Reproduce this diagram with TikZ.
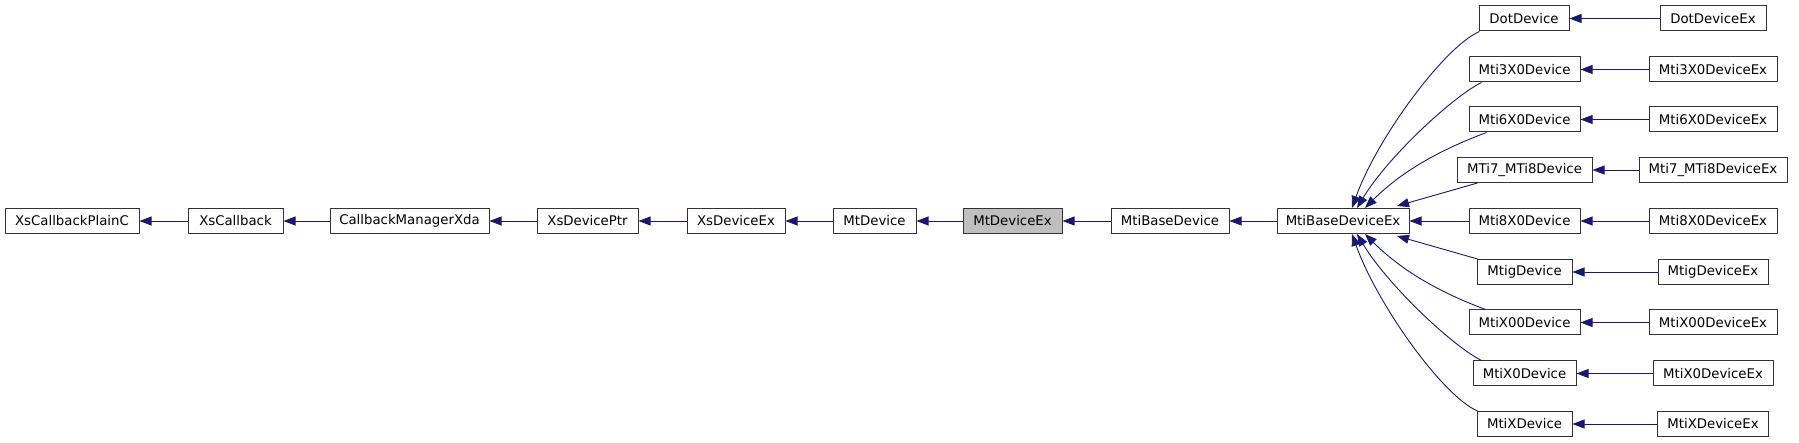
\documentclass[tikz,border=0pt]{standalone}
\usepackage{fontspec}
\setmainfont{DejaVu Sans}
\usetikzlibrary{arrows.meta}
\definecolor{edgeblue}{HTML}{191970}
\begin{document}
\begin{tikzpicture}
[x=1pt,y=-1pt,
  classbox/.style={shape=rectangle,draw=black!80,fill=white,line width=1pt,%
    minimum height=25pt,inner sep=0pt,font=\fontsize{13.3}{16}\selectfont},
  currentbox/.style={classbox,fill=black!25},
  inheritline/.style={draw=edgeblue,line width=0.9pt,-{Triangle[length=12pt,width=9pt]}}]
\useasboundingbox (0,0) rectangle (1799,443);
%% classes of the main row
\foreach \nodename/\x/\w/\txt in {plainc/72/134/XsCallbackPlainC, callback/235.5/95/XsCallback,
    manager/409.5/159/CallbackManagerXda, ptr/587.5/101/XsDevicePtr, xsex/736/98/XsDeviceEx,
    mtdev/874.5/83/MtDevice, base/1170/118/MtiBaseDevice, baseex/1343/132/MtiBaseDeviceEx} {
  \node (\nodename) at (\x,221) [classbox,minimum width=\w pt] {\txt};
}
\node (mtdevex) at (1012.5,221) [currentbox,minimum width=99pt] {MtDeviceEx};
%% derived classes
\foreach \nodename/\x/\y/\w/\txt in {dot/1524/18.5/90/DotDevice, dotex/1713/18.5/106/DotDeviceEx,
    mti3/1524.5/69.5/111/Mti3X0Device, mti3ex/1713/69.5/128/Mti3X0DeviceEx,
    mti6/1524.5/119.5/111/Mti6X0Device, mti6ex/1713/119.5/128/Mti6X0DeviceEx,
    mti7/1524.5/170/135/MTi7\_MTi8Device, mti7ex/1713/170/148/Mti7\_MTi8DeviceEx,
    mti8/1524.5/221/111/Mti8X0Device, mti8ex/1713/221/128/Mti8X0DeviceEx,
    mtig/1524.5/272/95/MtigDevice, mtigex/1713/272/110/MtigDeviceEx,
    mtix00/1524.5/322.5/111/MtiX00Device, mtix00ex/1713/322.5/128/MtiX00DeviceEx,
    mtix0/1524.5/373.5/103/MtiX0Device, mtix0ex/1713/373.5/120/MtiX0DeviceEx,
    mtix/1524.5/424/95/MtiXDevice, mtixex/1713/424/111/MtiXDeviceEx} {
  \node (\nodename) at (\x,\y) [classbox,minimum width=\w pt] {\txt};
}
%% straight inheritance lines
\foreach \child/\parent in {callback/plainc, manager/callback, ptr/manager, xsex/ptr,
    mtdev/xsex, mtdevex/mtdev, base/mtdevex, baseex/base, mti8/baseex,
    dotex/dot, mti3ex/mti3, mti6ex/mti6, mti7ex/mti7, mti8ex/mti8,
    mtigex/mtig, mtix00ex/mtix00, mtix0ex/mtix0, mtixex/mtix} {
  \draw[inheritline] (\child) -- (\parent);
}
%% lines into MtiBaseDeviceEx from above and below
\draw[inheritline] ([xshift=1pt]dot.south west) .. controls +(-35,15) and +(25,-70) .. ([xshift=9pt]baseex.north);
\draw[inheritline] ([xshift=13pt]mti3.south west) .. controls +(-30,15) and +(30,-50) .. ([xshift=14pt]baseex.north);
\draw[inheritline] ([xshift=18pt]mti6.south west) .. controls +(-40,15) and +(40,-40) .. ([xshift=22pt]baseex.north);
\draw[inheritline] ([xshift=21pt]mti7.south west) -- ([xshift=54pt,yshift=2pt]baseex.north);
\draw[inheritline] ([xshift=1pt]mtig.north west) -- ([xshift=54pt,yshift=-2pt]baseex.south);
\draw[inheritline] ([xshift=17pt]mtix00.north west) .. controls +(-40,-15) and +(40,40) .. ([xshift=22pt]baseex.south);
\draw[inheritline] ([xshift=9pt]mtix0.north west) .. controls +(-30,-15) and +(30,50) .. ([xshift=14pt]baseex.south);
\draw[inheritline] ([xshift=1pt]mtix.north west) .. controls +(-35,-15) and +(25,70) .. ([xshift=9pt]baseex.south);
\end{tikzpicture}
\end{document}
